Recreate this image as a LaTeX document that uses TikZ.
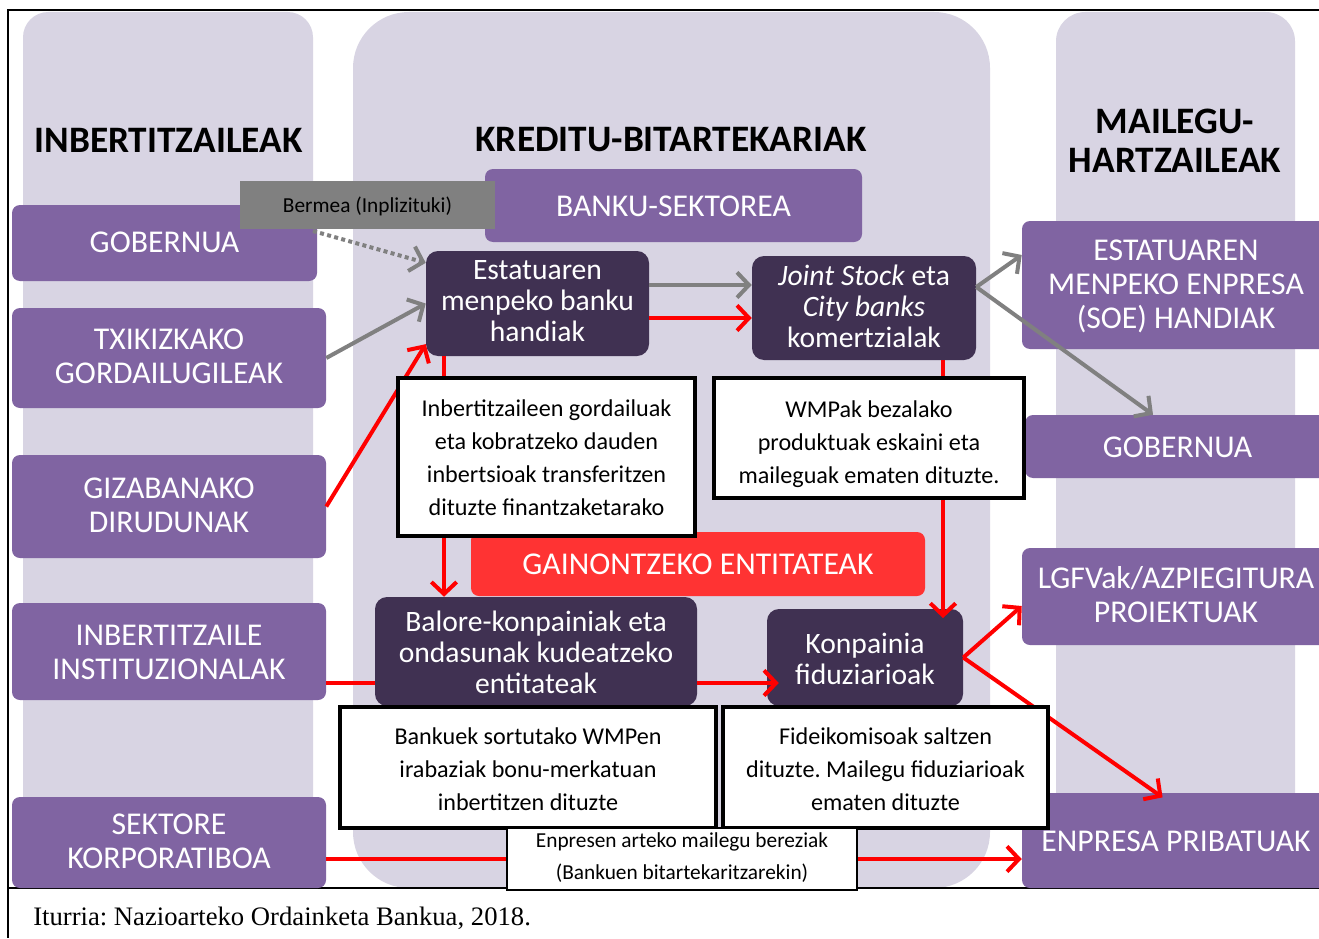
\documentclass[tikz,border=0pt]{standalone}
\usepackage{fontspec}
\setmainfont{Carlito}
\newfontfamily\capfont{Liberation Serif}
\usetikzlibrary{arrows.meta,fit}
\frenchspacing
\definecolor{colbg}{HTML}{D8D4E3}
\definecolor{purp}{HTML}{8064A2}
\definecolor{darkp}{HTML}{403152}
\definecolor{redbox}{HTML}{FF3333}
\definecolor{grayb}{HTML}{808080}
\newcommand{\fsz}[2]{\fontsize{#1}{#2}\selectfont}
\tikzset{
  pbox/.style={fill=purp, draw=none, rounded corners=6pt, inner sep=0pt},
  dbox/.style={fill=darkp, draw=none, rounded corners=9pt, inner sep=0pt},
  rbox/.style={fill=redbox, draw=none, rounded corners=6pt, inner sep=0pt},
  gbox/.style={fill=grayb, draw=none, inner sep=0pt},
  tbox/.style={fill=white, draw=black, line width=3pt, inner sep=0pt},
  tboxs/.style={fill=white, draw=black, line width=2.2pt, inner sep=0pt},
  ptx/.style={text=white, inner sep=0pt, align=center, font=\fsz{23.8}{25.5}},
  dtx/.style={text=white, inner sep=0pt, align=center, font=\fsz{22.2}{23.3}},
  gtx/.style={text=black, inner sep=0pt, align=center, font=\fsz{16}{18}},
  ttx/.style={text=black, inner sep=0pt, align=center, font=\fsz{18.1}{24.75}},
  stx/.style={text=black, inner sep=0pt, align=center, font=\fsz{16}{24}},
  titletext/.style={font=\bfseries\fsz{28}{29.5}, align=center, inner sep=0pt},
  rarrow/.style={draw=red, line width=3pt, -{Straight Barb[length=9pt,width=19pt]}},
  garrow/.style={draw=grayb, line width=3pt, -{Straight Barb[length=9pt,width=19pt]}},
  rline/.style={draw=red, line width=3pt},
  dotarrow/.style={draw=grayb, line width=3pt, dash pattern=on 3pt off 2.5pt, -{Straight Barb[length=9pt,width=19pt]}},
}
\begin{document}
\begin{tikzpicture}[x=0.75pt, y=-0.75pt]
\useasboundingbox (0,0) rectangle (1319,938);
\clip (0,0) rectangle (1319,938);
\fill[white] (0,0) rectangle (1319,938);
% columns
\fill[colbg, rounded corners=19pt] (23,12) rectangle (313,888);
\fill[colbg, rounded corners=42pt] (353,12) rectangle (990,888);
\fill[colbg, rounded corners=22pt] (1056,12) rectangle (1295,888);
% frame
\draw[line width=1.5pt] (1319,10) -- (8,10) -- (8,938);
\draw[line width=1.5pt] (8,888) -- (1319,888);
% titles
\node[titletext] (t1) at (168.5,140) {INBERTITZAILEAK};
\node[titletext] (t2) at (671,140) {KREDITU-BITARTEKARIAK};
\node[titletext] (t3) at (1175,141) {MAILEGU-\\HARTZAILEAK};
% left boxes
\node[pbox, fit={(12,205) (317,281)}] (gob1) {};
\node[ptx] (gob1t) at ([yshift=0.75pt]gob1.center) {GOBERNUA};
\node[pbox, fit={(12,308) (326,408)}] (txiki) {};
\node[ptx] (txikit) at ([yshift=1.5pt]txiki.center) {TXIKIZKAKO\\GORDAILUGILEAK};
\node[pbox, fit={(12,455) (326,558)}] (giza) {};
\node[ptx] (gizat) at ([yshift=0.75pt]giza.center) {GIZABANAKO\\DIRUDUNAK};
\node[pbox, fit={(12,603) (326,700)}] (inst) {};
\node[ptx] (instt) at ([yshift=-0.75pt]inst.center) {INBERTITZAILE\\INSTITUZIONALAK};
\node[pbox, fit={(12,797) (326,888)}] (sekt) {};
\node[ptx] (sektt) at ([yshift=0.75pt]sekt.center) {SEKTORE\\KORPORATIBOA};
% middle boxes
\node[pbox, fit={(485,169) (862,242)}] (banku) {};
\node[ptx] (bankut) at ([yshift=-0.75pt]banku.center) {BANKU-SEKTOREA};
\node[dbox, fit={(426,251) (649,356)}] (estat) {};
\node[dtx] (estatt) at ([yshift=1.5pt]estat.center) {Estatuaren\\menpeko banku\\handiak};
\node[dbox, fit={(752,256) (976,360)}] (joint) {};
\node[dtx] (jointt) at ([yshift=1.5pt]joint.center) {{\itshape Joint Stock} eta\\{\itshape City banks}\\komertzialak};
\node[rbox, fit={(471,532) (925,596)}] (gain) {};
\node[ptx] (gaint) at (gain.center) {GAINONTZEKO ENTITATEAK};
\node[dbox, fit={(375,597) (697,706)}] (balore) {};
\node[dtx] (baloret) at ([yshift=-0.75pt]balore.center) {Balore-konpainiak eta\\ondasunak kudeatzeko\\entitateak};
\node[dbox, fit={(767,609) (963,706)}] (konp) {};
\node[dtx] (konpt) at ([yshift=-0.75pt]konp.center) {Konpainia\\fiduziarioak};
% right boxes
\node[pbox, fit={(1022,221) (1330,349)}] (soe) {};
\node[ptx] (soet) at ([yshift=-0.75pt]soe.center) {ESTATUAREN\\MENPEKO ENPRESA\\(SOE) HANDIAK};
\node[pbox, fit={(1025,415) (1330,478)}] (gob2) {};
\node[ptx] (gob2t) at ([yshift=-0.75pt]gob2.center) {GOBERNUA};
\node[pbox, fit={(1022,548) (1330,645)}] (lgfv) {};
\node[ptx] (lgfvt) at ([yshift=1.5pt]lgfv.center) {LGFVak/AZPIEGITURA\\PROIEKTUAK};
\node[pbox, fit={(1022,793) (1330,888)}] (enpresa) {};
\node[ptx] (enpresat) at ([yshift=-0.75pt]enpresa.center) {ENPRESA PRIBATUAK};
% arrows
\coordinate (g0) at (313,231);
\draw[dotarrow] (g0) -- (estat.160);
\draw[garrow] (txiki.east) -- (estat.west);
\draw[rarrow] (giza.east) -- (estat.200);
\draw[garrow] (estat.east |- 0,285) -- (joint.west |- 0,285);
\draw[rarrow] (estat.east |- 0,318) -- (joint.west |- 0,318);
\draw[rarrow] (estat.south -| 444,0) -- (balore.north -| 444,0);
\draw[rarrow, shorten >=-7pt] (joint.south -| 943,0) -- (konp.north -| 943,0);
\draw[garrow] (joint.east |- 0,287) -- (soe.west |- 0,255);
\draw[garrow] (joint.east |- 0,287) -- (gob2.north -| 1153,0);
\draw[rline] (inst.east |- 0,683) -- (balore.west |- 0,683);
\draw[rarrow, shorten >=-9pt] (balore.east |- 0,683) -- (konp.west |- 0,683);
\draw[rarrow] (konp.east) -- (lgfv.west |- 0,606);
\draw[rarrow, shorten >=-6pt] (konp.east) -- (enpresa.north -| 1156,0);
% gray guarantee box
\node[gbox, fit={(240,181) (495,229)}] (bermea) {};
\node[gtx] (bermeat) at ([yshift=-0.75pt]bermea.center) {Bermea (Inplizituki)};
% text boxes
\node[tbox, fit={(398,378) (695,536)}] (tb1) {};
\node[ttx] (tb1t) at ([yshift=-0.4pt]tb1.center) {Inbertitzaileen gordailuak\\eta kobratzeko dauden\\inbertsioak transferitzen\\dituzte finantzaketarako};
\node[tbox, fit={(714,378) (1024,498)}] (tb2) {};
\node[ttx] (tb2t) at ([yshift=-4.3pt]tb2.center) {WMPak bezalako\\produktuak eskaini eta\\maileguak ematen dituzte.};
\node[tbox, fit={(340,707) (716,828)}] (tb3) {};
\node[ttx] (tb3t) at ([yshift=-1.3pt]tb3.center) {Bankuek sortutako WMPen\\irabaziak bonu-merkatuan\\inbertitzen dituzte};
\node[tbox, fit={(723,707) (1048,828)}] (tb4) {};
\node[ttx] (tb4t) at ([yshift=-1.3pt]tb4.center) {Fideikomisoak saltzen\\dituzte. Mailegu fiduziarioak\\ematen dituzte};
\node[tboxs, fit={(507,828) (857,890)}] (tb5) {};
\node[stx] (tb5t) at ([yshift=0.75pt]tb5.center) {Enpresen arteko mailegu bereziak\\(Bankuen bitartekaritzarekin)};
\draw[rline] (sekt.east |- 0,859) -- (tb5.west |- 0,859);
\draw[rarrow] (tb5.east |- 0,859) -- (enpresa.west |- 0,859);
% caption
\node[anchor=base west, inner sep=0pt, font=\capfont\fsz{20}{22}] (cap) at (33,925) {Iturria: Nazioarteko Ordainketa Bankua, 2018.};
\end{tikzpicture}
\end{document}
